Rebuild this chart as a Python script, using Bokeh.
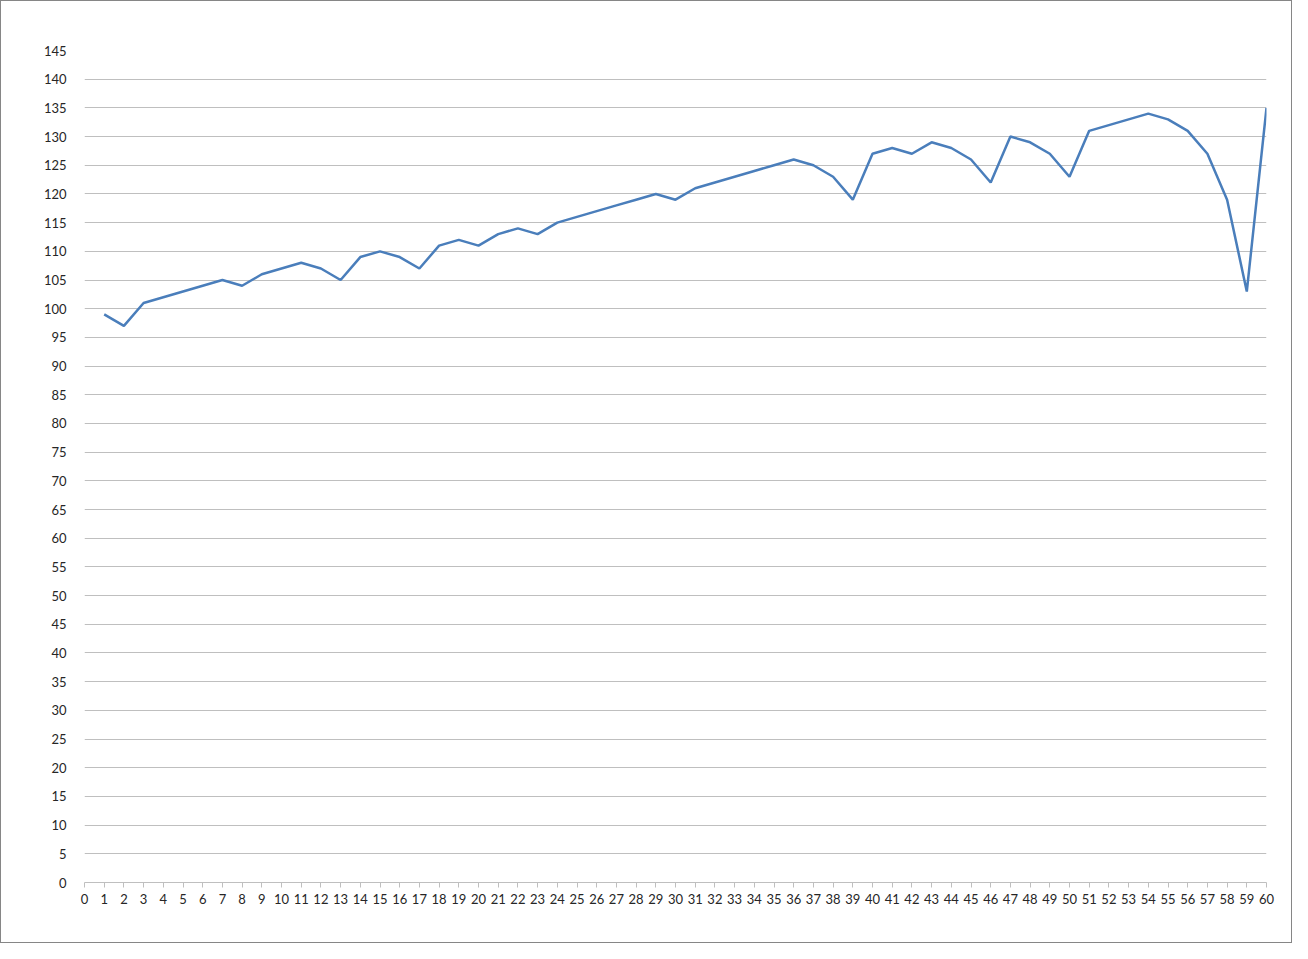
from bokeh.plotting import figure
from bokeh.models import Range1d, FixedTicker
from bokeh.embed import file_html
from bokeh.resources import INLINE

x_values = list(range(1, 61))
y_values = [99, 97, 101, 102, 103, 104, 105, 104, 106, 107,
            108, 107, 105, 109, 110, 109, 107, 111, 112, 111,
            113, 114, 113, 115, 116, 117, 118, 119, 120, 119,
            121, 122, 123, 124, 125, 126, 125, 123, 119, 127,
            128, 127, 129, 128, 126, 122, 130, 129, 127, 123,
            131, 132, 133, 134, 133, 131, 127, 119, 103, 135]
x_ticks = list(range(0, 61))
y_ticks = list(range(0, 146, 5))

p = figure(width=1292, height=943, output_backend="svg", toolbar_location=None,
           x_range=Range1d(0, 60), y_range=Range1d(0, 145),
           min_border_left=83, min_border_right=27, min_border_top=49, min_border_bottom=62)
p.styles = {"border": "1px solid #868686", "box-sizing": "border-box"}
p.outline_line_color = None
p.background_fill_color = "white"
p.border_fill_color = "white"

p.line(x_values, y_values, line_color="#4a7ebb", line_width=2.5)

p.xgrid.grid_line_color = None
p.ygrid.grid_line_color = "#bfbfbf"
p.ygrid.grid_line_width = 1

p.xaxis.ticker = FixedTicker(ticks=x_ticks)
p.yaxis.ticker = FixedTicker(ticks=y_ticks)
for ax in (p.xaxis, p.yaxis):
    ax.major_label_text_font = "Lato"
    ax.major_label_text_font_size = "13px"
    ax.major_label_text_color = "#262626"
    ax.minor_tick_line_color = None

p.xaxis.axis_line_color = "#bfbfbf"
p.xaxis.major_tick_line_color = "#bfbfbf"
p.xaxis.major_tick_in = 0
p.xaxis.major_tick_out = 5
p.xaxis.major_label_standoff = 6

p.yaxis.axis_line_color = None
p.yaxis.major_tick_line_color = None
p.yaxis.major_label_standoff = 12

open("out.html", "w").write(file_html(p, INLINE))
